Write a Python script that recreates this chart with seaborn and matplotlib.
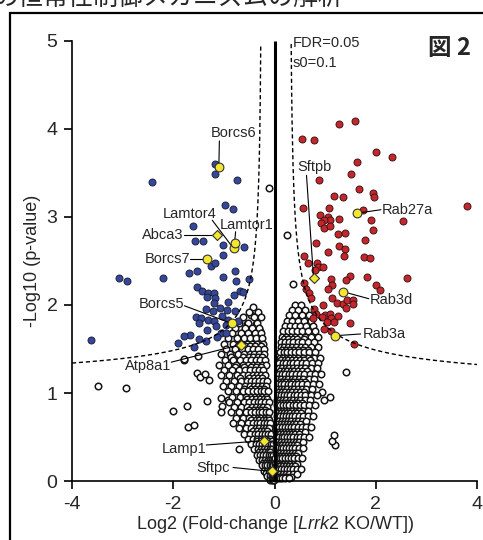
import numpy as np
import pandas as pd
import matplotlib
matplotlib.use("Agg")
import matplotlib.pyplot as plt
import seaborn as sns
from matplotlib.patches import Rectangle

# significant, down in KO (blue)
blue_x = [-2.42, -1.18, -1.18, -0.75, -0.98, -0.83, -1.62, -1.58, -1.41, -1.02, -0.60, -1.02,
          -1.26, -1.18, -1.68, -1.54, -3.07, -2.92, -2.20, -1.02, -0.79, -0.77, -0.51, -1.54,
          -1.44, -1.31, -1.19, -1.33, -1.17, -0.80, -0.69, -0.62, -0.92, -1.20, -1.35, -1.21,
          -1.07, -0.93, -0.79, -1.56, -1.46, -1.49, -1.31, -1.20, -1.04, -0.92, -0.96, -0.72,
          -1.34, -1.15, -1.05, -1.66, -1.79, -1.91, -1.49, -1.36, -1.14, -0.96, -1.60, -3.62]
blue_y = [3.39, 3.60, 3.49, 3.42, 3.13, 3.09, 2.89, 2.72, 2.73, 2.68, 2.66, 2.57,
          2.44, 2.47, 2.36, 2.39, 2.31, 2.27, 2.31, 2.32, 2.39, 2.27, 2.29, 2.20,
          2.16, 2.14, 2.13, 2.09, 2.08, 2.11, 2.16, 2.15, 2.03, 2.02, 1.95, 1.93,
          1.97, 1.94, 1.93, 1.86, 1.85, 1.80, 1.83, 1.82, 1.87, 1.83, 1.77, 1.82,
          1.72, 1.76, 1.68, 1.66, 1.65, 1.57, 1.61, 1.59, 1.63, 1.68, 1.52, 1.60]

# significant, up in KO (red)
red_x = [1.28, 1.59, 0.55, 0.77, 2.00, 2.32, 1.62, 1.50, 0.88, 1.67, 1.95, 1.97, 1.17, 1.35,
         0.56, 1.75, 1.08, 0.90, 1.05, 1.10, 0.98, 0.92, 0.97, 1.10, 1.28, 1.91, 2.53, 3.80,
         1.95, 1.26, 1.39, 1.79, 0.82, 1.27, 1.39, 1.37, 1.06, 1.76, 1.89, 0.58, 0.66, 0.83,
         0.85, 0.96, 0.79, 0.58, 0.63, 0.68, 0.71, 1.11, 1.13, 1.05, 1.49, 1.41, 1.83, 2.62,
         2.00, 2.09, 1.13, 1.23, 1.36, 1.42, 1.54, 1.54, 1.40, 0.95, 0.77, 0.82, 1.00, 1.10,
         0.94, 1.11, 1.25, 0.75, 1.03, 1.17, 1.49, 0.97, 1.12, 1.56]
red_y = [4.05, 4.09, 3.88, 3.87, 3.74, 3.68, 3.62, 3.48, 3.42, 3.31, 3.27, 3.22, 3.23, 3.22,
         3.10, 3.08, 3.10, 3.02, 3.00, 2.96, 2.96, 2.93, 2.87, 2.90, 2.98, 2.96, 2.95, 3.12,
         2.85, 2.81, 2.82, 2.74, 2.70, 2.67, 2.63, 2.55, 2.60, 2.54, 2.53, 2.55, 2.47, 2.48,
         2.43, 2.43, 2.40, 2.25, 2.18, 2.13, 2.08, 2.29, 2.22, 2.18, 2.33, 2.28, 2.32, 2.31,
         2.22, 2.17, 2.08, 2.02, 2.01, 2.06, 2.06, 2.01, 1.96, 2.00, 1.95, 1.90, 1.89, 1.90,
         1.86, 1.85, 1.87, 1.85, 1.81, 1.81, 1.79, 1.73, 1.70, 1.56]

# non-significant outliers
ns_out_x = [-3.49, -2.93, -2.00, -1.73, -1.71, -1.59, -1.33, -1.54, -1.48, -1.30, -1.79, -1.51,
            -1.05, -0.92, -1.04, -1.05, -0.71, 1.19, 1.14, 1.17, 0.93, 0.98, 1.09, -0.12,
            0.24, 0.37, -0.47, -0.37, -0.28, -0.55, -0.60, -0.46, -1.78, -1.38, 1.40]
ns_out_y = [1.08, 1.06, 0.80, 0.85, 0.61, 0.64, 0.91, 1.23, 1.18, 1.15, 1.38, 1.42,
            0.94, 0.92, 0.85, 0.78, 0.36, 0.41, 0.46, 0.52, 1.01, 0.92, 0.95, 3.33,
            2.79, 2.24, 1.88, 1.78, 1.70, 1.78, 1.69, 1.71, 1.39, 1.22, 1.24]

# dense non-significant cloud, read row by row (y: x values)
ns_rows_left = {
    1.98: [-0.42],
    1.92: [-0.50, -0.33],
    1.86: [-0.62, -0.40, -0.27],
    1.80: [-0.70, -0.52, -0.34],
    1.74: [-0.78, -0.58, -0.44, -0.30],
    1.68: [-0.85, -0.66, -0.52, -0.38, -0.26],
    1.62: [-0.92, -0.74, -0.60, -0.48, -0.36, -0.24],
    1.56: [-1.00, -0.82, -0.68, -0.55, -0.45, -0.34, -0.22],
    1.53: [-0.73, -0.58, -0.48, -0.38, -0.27],
    1.50: [-0.95, -0.78, -0.64, -0.52, -0.42, -0.32, -0.21],
    1.44: [-1.06, -0.88, -0.72, -0.60, -0.49, -0.40, -0.30, -0.20],
    1.41: [-0.86, -0.63, -0.51, -0.42, -0.33, -0.24],
    1.38: [-0.98, -0.82, -0.68, -0.56, -0.46, -0.37, -0.28, -0.19],
    1.32: [-1.10, -0.92, -0.76, -0.63, -0.52, -0.43, -0.34, -0.25, -0.17],
    1.29: [-0.78, -0.61, -0.46, -0.36, -0.27],
    1.26: [-1.00, -0.84, -0.70, -0.58, -0.48, -0.39, -0.31, -0.23],
    1.20: [-1.06, -0.90, -0.75, -0.62, -0.52, -0.43, -0.35, -0.27, -0.19],
    1.17: [-0.68, -0.50, -0.41, -0.32, -0.24],
    1.14: [-0.96, -0.80, -0.66, -0.55, -0.46, -0.38, -0.30, -0.22, -0.15],
    1.08: [-1.02, -0.86, -0.71, -0.59, -0.49, -0.41, -0.33, -0.25, -0.17],
    1.05: [-0.60, -0.46, -0.38, -0.29, -0.21],
    1.02: [-0.92, -0.76, -0.63, -0.52, -0.43, -0.35, -0.27, -0.20, -0.13],
    0.96: [-0.84, -0.69, -0.57, -0.47, -0.39, -0.31, -0.24, -0.16],
    0.93: [-0.55, -0.44, -0.36, -0.28, -0.21, -0.15],
    0.90: [-0.90, -0.74, -0.61, -0.50, -0.41, -0.33, -0.26, -0.19, -0.12],
    0.84: [-0.80, -0.66, -0.54, -0.44, -0.36, -0.29, -0.22, -0.15],
    0.81: [-0.50, -0.40, -0.33, -0.26, -0.19],
    0.78: [-0.86, -0.70, -0.57, -0.47, -0.38, -0.31, -0.24, -0.17, -0.11],
    0.72: [-0.76, -0.62, -0.50, -0.41, -0.33, -0.26, -0.19, -0.13],
    0.69: [-0.46, -0.37, -0.30, -0.23, -0.17, -0.11],
    0.66: [-0.82, -0.66, -0.53, -0.43, -0.35, -0.28, -0.21, -0.15, -0.09],
    0.60: [-0.70, -0.56, -0.46, -0.37, -0.30, -0.23, -0.17, -0.11],
    0.57: [-0.42, -0.34, -0.27, -0.21, -0.15],
    0.54: [-0.60, -0.48, -0.39, -0.32, -0.25, -0.19, -0.13, -0.08],
    0.48: [-0.52, -0.42, -0.34, -0.27, -0.21, -0.15, -0.10],
    0.45: [-0.34, -0.27, -0.21, -0.16, -0.11, -0.06],
    0.42: [-0.46, -0.37, -0.30, -0.24, -0.18, -0.13, -0.08, -0.04],
    0.36: [-0.40, -0.32, -0.26, -0.20, -0.15, -0.10, -0.06],
    0.33: [-0.30, -0.24, -0.18, -0.13, -0.09],
    0.30: [-0.35, -0.28, -0.22, -0.17, -0.12, -0.08, -0.04],
    0.24: [-0.30, -0.24, -0.18, -0.13, -0.09, -0.05, -0.02],
    0.21: [-0.22, -0.16, -0.12, -0.08, -0.04],
    0.18: [-0.25, -0.19, -0.14, -0.10, -0.06, -0.03],
    0.12: [-0.20, -0.14, -0.10, -0.06, -0.03, -0.01],
    0.09: [-0.17, -0.12, -0.08, -0.04, -0.02],
    0.06: [-0.15, -0.10, -0.06, -0.03, -0.01],
    0.01: [-0.10, -0.06, -0.03, -0.01],
}
ns_rows_right = {
    2.00: [0.40, 0.52],
    1.94: [0.34, 0.46, 0.60],
    1.88: [0.28, 0.40, 0.54, 0.68],
    1.82: [0.24, 0.34, 0.46, 0.58, 0.72],
    1.76: [0.20, 0.30, 0.40, 0.50, 0.62, 0.76],
    1.70: [0.17, 0.26, 0.35, 0.45, 0.55, 0.66, 0.80],
    1.64: [0.15, 0.23, 0.32, 0.41, 0.50, 0.60, 0.72, 0.85],
    1.61: [0.19, 0.27, 0.36, 0.45, 0.58],
    1.58: [0.13, 0.21, 0.29, 0.37, 0.46, 0.55, 0.65, 0.77],
    1.52: [0.12, 0.19, 0.27, 0.35, 0.43, 0.52, 0.61, 0.72, 0.86],
    1.49: [0.15, 0.22, 0.30, 0.38, 0.47, 0.56, 0.65],
    1.46: [0.11, 0.18, 0.25, 0.33, 0.41, 0.49, 0.58, 0.68, 0.80],
    1.40: [0.10, 0.17, 0.24, 0.31, 0.39, 0.47, 0.56, 0.66, 0.77, 0.90],
    1.37: [0.13, 0.20, 0.27, 0.34, 0.42, 0.50, 0.59, 0.69],
    1.34: [0.09, 0.16, 0.23, 0.30, 0.37, 0.45, 0.54, 0.63, 0.74, 0.86],
    1.28: [0.08, 0.15, 0.22, 0.29, 0.36, 0.44, 0.52, 0.61, 0.71, 0.83],
    1.25: [0.11, 0.18, 0.25, 0.32, 0.39, 0.46, 0.55, 0.64],
    1.22: [0.08, 0.14, 0.21, 0.28, 0.35, 0.42, 0.50, 0.59, 0.69, 0.80, 0.92],
    1.16: [0.07, 0.13, 0.20, 0.27, 0.34, 0.41, 0.49, 0.57, 0.67, 0.78],
    1.13: [0.10, 0.16, 0.23, 0.30, 0.37, 0.44, 0.52, 0.61],
    1.10: [0.07, 0.13, 0.19, 0.26, 0.33, 0.40, 0.47, 0.55, 0.64, 0.75, 0.87],
    1.04: [0.06, 0.12, 0.18, 0.25, 0.32, 0.39, 0.46, 0.54, 0.63, 0.73],
    1.01: [0.09, 0.15, 0.21, 0.28, 0.35, 0.42, 0.50, 0.58],
    0.98: [0.06, 0.12, 0.18, 0.24, 0.31, 0.38, 0.45, 0.53, 0.61, 0.71, 0.83],
    0.92: [0.05, 0.11, 0.17, 0.23, 0.30, 0.37, 0.44, 0.51, 0.60, 0.69],
    0.89: [0.08, 0.14, 0.20, 0.26, 0.33, 0.40, 0.47, 0.55],
    0.86: [0.05, 0.11, 0.17, 0.23, 0.29, 0.36, 0.43, 0.50, 0.58, 0.67, 0.79],
    0.80: [0.04, 0.10, 0.16, 0.22, 0.28, 0.35, 0.42, 0.49, 0.57, 0.66],
    0.77: [0.07, 0.13, 0.19, 0.25, 0.31, 0.38, 0.45, 0.53],
    0.74: [0.04, 0.10, 0.16, 0.22, 0.28, 0.34, 0.41, 0.48, 0.56, 0.65, 0.76],
    0.68: [0.04, 0.09, 0.15, 0.21, 0.27, 0.33, 0.40, 0.47, 0.55, 0.63],
    0.65: [0.06, 0.12, 0.18, 0.24, 0.30, 0.36, 0.43, 0.51],
    0.62: [0.03, 0.09, 0.15, 0.21, 0.27, 0.33, 0.39, 0.46, 0.54, 0.62, 0.72],
    0.56: [0.03, 0.08, 0.14, 0.20, 0.26, 0.32, 0.38, 0.45, 0.52, 0.60],
    0.53: [0.05, 0.11, 0.17, 0.22, 0.28, 0.35, 0.41, 0.48],
    0.50: [0.03, 0.08, 0.14, 0.19, 0.25, 0.31, 0.37, 0.44, 0.51, 0.59, 0.68],
    0.44: [0.02, 0.07, 0.13, 0.18, 0.24, 0.30, 0.36, 0.42, 0.49, 0.57],
    0.41: [0.05, 0.10, 0.15, 0.21, 0.27, 0.32, 0.39, 0.45],
    0.38: [0.02, 0.07, 0.12, 0.17, 0.23, 0.29, 0.35, 0.41, 0.48, 0.56],
    0.32: [0.02, 0.06, 0.11, 0.16, 0.22, 0.28, 0.34, 0.40, 0.47],
    0.29: [0.04, 0.09, 0.13, 0.19, 0.25, 0.31, 0.36, 0.43],
    0.26: [0.01, 0.06, 0.10, 0.15, 0.21, 0.27, 0.33, 0.39, 0.46, 0.54],
    0.20: [0.01, 0.05, 0.09, 0.14, 0.19, 0.25, 0.31, 0.38, 0.45],
    0.17: [0.03, 0.07, 0.11, 0.16, 0.22, 0.28, 0.34, 0.41],
    0.14: [0.01, 0.04, 0.08, 0.13, 0.18, 0.24, 0.30, 0.37, 0.44, 0.52],
    0.08: [0.01, 0.04, 0.07, 0.11, 0.16, 0.22, 0.29, 0.36, 0.44],
    0.05: [0.02, 0.05, 0.08, 0.13, 0.18, 0.25, 0.33],
    0.03: [0.00, 0.03, 0.06, 0.10, 0.15, 0.21, 0.28],
}

# highlighted proteins
lab_names = ['Borcs6', 'Lamtor4', 'Lamtor1', 'Abca3', 'Borcs7', 'Borcs5', 'Atp8a1',
             'Lamp1', 'Sftpc', 'Sftpb', 'Rab27a', 'Rab3d', 'Rab3a']
lab_x = [-1.10, -0.81, -0.79, -1.14, -1.33, -0.85, -0.67, -0.20, -0.05, 0.77, 1.62, 1.35, 1.19]
lab_y = [3.57, 2.64, 2.70, 2.79, 2.52, 1.79, 1.55, 0.46, 0.11, 2.30, 3.04, 2.15, 1.65]
lab_marker = ['o', 'o', 'o', 'D', 'o', 'o', 'D', 'D', 'D', 'D', 'o', 'o', 'o']
# label text anchor (x, y, ha) and leader-line start
lab_tx = [-0.81, -1.68, -0.55, -1.80, -1.67, -2.24, -2.50, -1.78, -1.21, 0.79, 2.12, 1.88, 1.74]
lab_ty = [3.95, 3.03, 2.91, 2.79, 2.52, 2.01, 1.31, 0.37, 0.15, 3.57, 3.08, 2.05, 1.67]
lab_ha = ['center', 'center', 'center', 'right', 'right', 'center', 'center', 'center',
          'center', 'center', 'left', 'left', 'left']
lab_lx = [-1.09, -1.23, -0.77, -1.79, -1.66, -1.78, -2.04, -1.35, -0.82, 0.63, 2.10, 1.86, 1.70]
lab_ly = [3.86, 2.96, 2.83, 2.79, 2.52, 1.99, 1.35, 0.41, 0.155, 3.47, 3.08, 2.07, 1.67]

ns_x = list(ns_out_x)
ns_y = list(ns_out_y)
for rows in (ns_rows_left, ns_rows_right):
    for yv, xs in rows.items():
        ns_x += xs
        ns_y += [yv] * len(xs)

ns = pd.DataFrame({'x': ns_x, 'y': ns_y})
down = pd.DataFrame({'x': blue_x, 'y': blue_y})
up = pd.DataFrame({'x': red_x, 'y': red_y})
hl = pd.DataFrame({'x': lab_x, 'y': lab_y, 'm': lab_marker})

sns.set_style("ticks")
plt.rcParams['font.family'] = ['Liberation Sans', 'Noto Sans CJK JP', 'DejaVu Sans']
plt.rcParams['axes.unicode_minus'] = False
plt.rcParams['mathtext.fontset'] = 'custom'
plt.rcParams['mathtext.it'] = 'Liberation Sans:italic'
plt.rcParams['mathtext.rm'] = 'Liberation Sans'

fig = plt.figure(figsize=(4.83, 5.40), dpi=100)
ax = fig.add_axes([0.149, 0.109, 0.839, 0.816])

# frame around the panel
fig.patches.append(Rectangle((0.021, -0.1), 1.2, 1.076, transform=fig.transFigure,
                             fill=False, edgecolor='black', linewidth=1.6))

sns.scatterplot(data=ns, x='x', y='y', ax=ax, s=22, color='white', edgecolor='#151515',
                linewidth=1.1, clip_on=False, zorder=2)
sns.scatterplot(data=down, x='x', y='y', ax=ax, s=26, color='#34479b', edgecolor='#1a1a2a',
                linewidth=0.6, zorder=3)
sns.scatterplot(data=up, x='x', y='y', ax=ax, s=26, color='#c4262b', edgecolor='#2a1010',
                linewidth=0.6, zorder=3)
for mk, size in (('o', 40), ('D', 26)):
    sub = hl[hl['m'] == mk]
    sns.scatterplot(data=sub, x='x', y='y', ax=ax, s=size, marker=mk, color='#f4e62c',
                    edgecolor='#333333', linewidth=0.8, zorder=5, clip_on=False)

# significance curves (FDR=0.05, s0=0.1)
xl = np.linspace(-4, -0.2735, 400)
ax.plot(xl, 1.03 + 0.60 / np.sqrt(-xl - 0.25), ls=(0, (3, 2)), color='black', lw=1.0, zorder=4)
xr = np.linspace(0.3275, 4, 400)
ax.plot(xr, 0.98 + 0.66 / np.sqrt(xr - 0.30), ls=(0, (3, 2)), color='black', lw=1.0, zorder=4)
ax.plot([0, 0], [0, 5], color='black', lw=2.2, zorder=4, solid_capstyle='butt')

for i, name in enumerate(lab_names):
    ax.plot([lab_lx[i], lab_x[i]], [lab_ly[i], lab_y[i]], color='black', lw=0.8, zorder=4)
    ax.text(lab_tx[i], lab_ty[i], name, ha=lab_ha[i], va='center', fontsize=10.5, zorder=6)

ax.text(0.35, 4.97, 'FDR=0.05', fontsize=10.5, ha='left', va='center')
ax.text(0.35, 4.74, 's0=0.1', fontsize=10.5, ha='left', va='center')

ax.set_xlim(-4, 4)
ax.set_ylim(0, 5)
ax.set_xticks([-4, -2, 0, 2, 4])
ax.set_yticks([0, 1, 2, 3, 4, 5])
ax.tick_params(labelsize=14, length=5.5, width=1.2, color='black', pad=5)
for side in ('top', 'right'):
    ax.spines[side].set_visible(False)
for side in ('left', 'bottom'):
    ax.spines[side].set_linewidth(1.2)
    ax.spines[side].set_color('black')
ax.set_xlabel(r'Log2 (Fold-change [$\it{Lrrk2}$ KO/WT])', fontsize=13, labelpad=1)
ax.set_ylabel('-Log10 (p-value)', fontsize=13, labelpad=4)

fig.text(0.975, 0.912, '図 2', fontsize=17, fontweight='bold', ha='right', va='center',
         family=['Noto Sans CJK JP', 'DejaVu Sans'])
fig.text(-0.012, 0.99, 'の恒常性制御メカニズムの解析', fontsize=18, ha='left', va='baseline',
         family=['Noto Sans CJK JP', 'DejaVu Sans'])

fig.savefig('out.png', dpi=100)
